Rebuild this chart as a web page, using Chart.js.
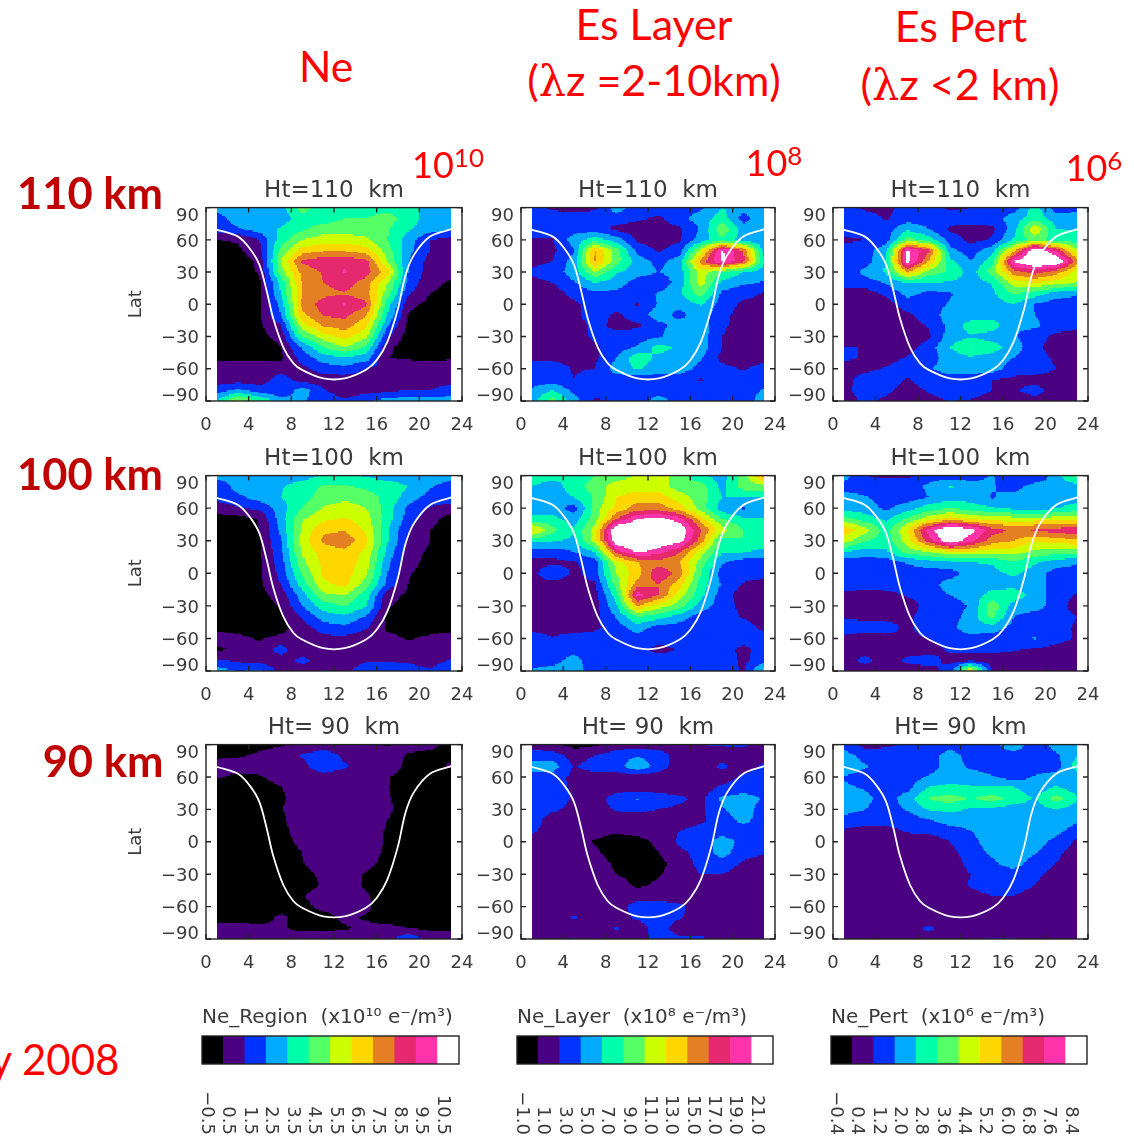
<!DOCTYPE html>
<html>
<head>
<meta charset="utf-8">
<title>Ne and Es maps</title>
<script src="https://cdn.jsdelivr.net/npm/chart.js@4"></script>
<style>
  html, body { margin: 0; background: #fff; }
  #page { position: relative; width: 1134px; height: 1147px; overflow: hidden; }
  canvas { position: absolute; filter: blur(0.4px); }
  .lbl { position: absolute; white-space: nowrap; font-family: Lato, sans-serif; color: #ff0000; transform: translate(-50%, -50%); z-index: 5; }
  .lbl sup { font-size: 0.72em; line-height: 0; vertical-align: 0.42em; }
  .alt { font-family: "DejaVu Serif", serif; }
  .ht { font-weight: 700; color: #c00000; font-size: 43.5px; }
</style>
</head>
<body>
<div id="page"></div>
<script>
// grid the maps were sampled on
const hourCols = [1, 3, 5, 7, 9, 11, 13, 15, 17, 19, 21, 23];
const latRows = [90, 80, 70, 60, 50, 40, 30, 20, 10, 0, -10, -20, -30, -40, -50, -60, -70, -80, -90];

// day/night line, same in every panel
const terminatorHour = [1, 3, 4.1, 5, 5.7, 6.3, 7.25, 8.2, 9, 11, 13, 15, 16, 17, 18, 18.7, 19.5, 21, 23];
const terminatorLat = [69.5, 63, 52, 37, 12, -13, -40, -55, -61, -69, -69, -61, -52, -35, -4, 27, 46, 63, 70];

// axis ticks
const hourTicks = ['0', '4', '8', '12', '16', '20', '24'];
const latTicks = { '90': '90', '60': '60', '30': '30', '0': '0', '-30': '\u221230', '-60': '\u221260', '-90': '\u221290' };

// colour bar ticks
const regionTicks = ['\u22120.5', '0.5', '1.5', '2.5', '3.5', '4.5', '5.5', '6.5', '7.5', '8.5', '9.5', '10.5'];
const layerTicks = ['\u22121.0', '1.0', '3.0', '5.0', '7.0', '9.0', '11.0', '13.0', '15.0', '17.0', '19.0', '21.0'];
const pertTicks = ['\u22120.4', '0.4', '1.2', '2.0', '2.8', '3.6', '4.4', '5.2', '6.0', '6.8', '7.6', '8.4'];

const bandColors = ['#000000', '#4b0082', '#0033ff', '#00aaff', '#00ffaa', '#55ff66',
                    '#ccff00', '#ffd700', '#e57f24', '#e6286e', '#ff33aa', '#ffffff'];

const region110 = [
  [3,3,3,3,5,4,4,4,4,4,3,3],
  [2,3,3,3,4,4,4.5,4.5,5,4,3,3],
  [2,2.4,3,3.6,4.3,5,5,5,4.6,3.6,3,2.6],
  [0.5,0.6,1.5,4,5.5,6,6,5.7,4.5,3,1.5,1.2],
  [0,0.3,1.2,4.8,7,7.4,7.4,7,5,2.8,1.5,0.8],
  [0,0,0.7,5.5,8.7,9.2,9.3,8.8,5.5,2.5,1.1,0.7],
  [0,0,0.6,5,7.8,8.6,9.6,9,7,2.4,1,0.7],
  [0,0,0.3,3.8,7.6,8.5,9,8,5.6,2.2,0.7,0.4],
  [0,0,0.4,3.5,7.5,8.2,8.4,7.9,5,1.6,0.5,0.3],
  [0,0,0.3,2.8,7.8,9,9.6,8.7,4,0.8,0.2,0],
  [0,0,0.4,2.5,7.2,8.6,8.8,7.6,3.5,0.4,0,0],
  [0,0,0.3,1.4,6,7.6,8,6.7,2.6,0.2,0,0],
  [0,0,0.2,0.8,4.5,6,6.8,5.8,1.6,0,0,0],
  [0,0,0,0.45,2.6,4.5,5.5,4.3,0.7,0,0,0],
  [0.3,0.3,0.3,0.3,1.9,3,3.3,3,0.5,0.4,0.3,0.3],
  [1,1.2,1,1,1.2,2,2.2,1.5,1.2,1,1,1.5],
  [1,1,1,2,1,1,1,1,1,1,1,1],
  [2,2.7,2,1.6,3,1.6,1,1,1.3,1.5,1.5,2],
  [3.5,6,4.5,3,2.6,2,1.6,2.4,3,3,3,3]
];
const layer110 = [
  [2,1.3,1.2,1.3,3,2,2,2,2.3,3.5,3,3],
  [2,2,2,2,2,1.7,1.3,2.2,3,4,2,3.5],
  [2,2,2,2,1.2,1,1,1.3,2.6,5.3,3,2.8],
  [1.4,1.4,3,4,3,1.3,1,1.4,3,4.3,3,2.6],
  [1.2,1.3,2.4,7.6,5,2.2,1.4,2,6,10.7,8.5,3],
  [1.2,1.5,3,7.7,5,3,2.2,3,8,10.7,8.8,3.5],
  [1.7,2,3,5.5,3.6,3,2.5,3,6,4.5,3.5,3],
  [1.2,1.5,2.4,3.5,3,2,1.7,3,6,3.2,2.7,2.4],
  [1,1,1.8,2.2,2.2,2,2.6,3.3,5,2.2,1.8,1.4],
  [1,1,1.3,2,2,1.4,2.6,2.8,3.6,2,1.3,1.2],
  [1,1,1.3,2,1.3,2,3,2.2,3,1.8,1.1,1.3],
  [1,1,1,1.8,1.2,1.3,2.2,3,3,1.7,1,1],
  [1,1,1,1.7,2,2,2.4,3,3,1.5,1,1],
  [1,1,1,1.3,2,2.6,3.9,3.3,3,1.5,1,1],
  [1.3,1.3,1.2,1.3,2.5,4.2,3.2,3,2.6,1.2,1,1],
  [2,2,1.4,1.5,3,3.6,3,3,2.2,1.8,1.4,2],
  [2,2,1.5,2,2,2,2,2,1.4,2,2,2],
  [2.6,3.5,2.2,2,2.5,2,2,2,2,2,2,2.6],
  [3,5,3,1.3,1.5,2,3,2,2,2,2,3]
];
const pert110 = [
  [2,1.3,1.2,2,2,1.3,1.5,2,2,4,2,2],
  [2,2,1.4,2,2,2,2,2,3,4,3,3.2],
  [2.2,2,2,3.3,2.5,1.3,1.2,1.3,3,6.5,3.5,3.4],
  [1.3,1.5,2,5,4,2,1.2,1.6,3.6,5,4,4],
  [2,2,3.2,10.8,8.8,2.8,2,3.2,7,11.8,9.5,5.5],
  [2,2,3.6,11,7.5,3.8,2.5,4,10.6,12,11.8,8],
  [1.8,2.8,3.6,7.5,5,4.4,3,5,8,9,8,6],
  [2,2,2.6,3.5,3.5,3.4,3,3.6,6,6.5,6,5.4],
  [1,1,1.7,2.8,2.2,2.4,3,3.3,4.6,4,3,2.6],
  [1.5,1,1,2,2,2.6,3,3,3.5,2.4,2,2],
  [1.5,1,1,1.3,2,3,3,3.1,3,2.5,2,2],
  [1,1,1,1,1.6,2.8,4,4,2.6,2.7,2,1.8],
  [1,1,1,1,1.3,3,3.4,3,2.6,2,1.2,1],
  [1.5,1.5,1,1.1,2,3.5,4.6,4,3,1.8,1,1],
  [1.7,1.4,1.1,1.6,2,3,3.3,3,2.5,2,1.3,1],
  [1,1.2,1.6,2,2.4,3,3,3,2,2.2,1.5,1],
  [1.1,2,2,1.4,2,2,2,1.5,1.3,1,1,1],
  [1.2,2,1.7,1.1,1.6,2,2,1.5,1.3,2,1,1],
  [1,1.7,1.3,1,1.2,1.5,1.4,1,1,1,1,1]
];
const region100 = [
  [3,3,3,3,3,3.6,3.6,3.4,3,3,3,3],
  [1.6,3,3,3.4,4,4.6,4.6,4.3,4,3.5,2.6,2],
  [1.8,2.2,3,3.5,4,5,5.3,5,4.2,3,2.1,2],
  [1,1.4,1.7,3,4.5,5.6,5.9,5.5,4,2.2,1.4,1.1],
  [0,0.1,0.55,3,5.4,6.3,6.6,6,4,2,0.9,0],
  [0,0,0.5,2.7,5.7,7.3,7.4,6.3,3.6,1.5,0.5,0],
  [0,0,0.4,2.4,6,7.7,8.2,6.8,3.6,1.3,0.5,0],
  [0,0,0.4,2.2,5.7,7,7.2,6.3,3.2,1,0.3,0],
  [0,0,0.3,2,5.2,6.8,7.1,6,2.8,0.9,0.1,0],
  [0,0,0.3,1.8,4.6,6.7,7,5.7,2.5,0.6,0,0],
  [0,0,0.3,1.5,4,6.3,6.8,5,2.2,0.45,0,0],
  [0,0,0.2,0.9,3,5.3,5.5,4,0.9,0.3,0,0],
  [0,0,0,0.6,2.5,4,4.5,3.6,0.6,0.1,0,0],
  [0,0,0,0.3,1.6,3,3.3,2.4,0.3,0,0,0],
  [0.2,0.2,0.2,0.2,1,2,2.2,1.6,0.3,0.1,0.1,0.1],
  [1,0.7,0.4,0.7,0.8,1.2,1.3,0.8,0.8,0.4,0.7,1],
  [0.3,0.7,0.8,2,0.5,1,1,1,1,1,0.7,1],
  [1.6,1.3,1,1,1.8,1,1,1.4,1.4,1.3,1,1.6],
  [3,2.5,2.8,1,1,1.6,1.3,2,2.2,2,1.6,2.5]
];
const layer100 = [
  [4,4,3.5,4.5,5,5.6,6,5,3.7,3,5,8],
  [3.5,3,4,5,6,6,6,5,5,3.2,5,5],
  [3,3,3.5,4.6,6.5,7,7,6,5,3.5,3.5,3.5],
  [3,3,2,5,6.8,8,8,7,5,3,2.4,3],
  [3.8,3.8,3,5,8.5,10.5,11,10,7,4.5,3.6,3.6],
  [7,4.8,3.6,6,12,12,12,11.5,8.5,6,4.5,4],
  [3.8,3.6,3.3,6,11.5,12,11.5,11,8,4,4.5,4.2],
  [2,2,2.5,3.5,9,10.7,10,8.6,6,3.6,3.6,3.2],
  [1.2,1.2,1.4,2,6,7.5,8,7.5,5,2.6,2,2],
  [1,2.6,1.2,2,5.5,7,9.5,8,4.5,2,2,2],
  [1,1,1,1.4,5,8,8.5,7,4,2.4,1.4,1],
  [1,1,1,1.1,4,10,8.5,6,3.8,2,1,1],
  [1,1,1,1.1,3.3,7.5,6,5,3,2,1.2,1],
  [1,1,1,1.1,2.6,4.5,4,3,2,2,1.4,1],
  [1.2,1,1,1.3,2,3,2,2,2,2,2,1.2],
  [2,1.6,2,2,2,2,2,2,2,2,2,2],
  [2,2,2,2,1.6,2,1.1,1.6,2,2,1.2,2],
  [2,2,3,1.6,2,2,2,2,2,2,1.3,2],
  [2.6,3,3,2,2,2,1.5,2,2,2,1.4,4]
];
const pert100 = [
  [3,1.5,1.3,1.3,2,2,2,2.6,1.5,1.5,3,5],
  [2,2,2,2,2.7,3.6,3,2.6,2,3,3,3],
  [3,2.6,2,2,2.5,3,3,2.4,3,3,2.8,3],
  [3,3,2.3,3,4,4.6,4,3.6,3.3,3,3.4,4],
  [5,4,3.3,4.7,6,7,6.4,6,6,6,6,6],
  [7.2,6,4,6.5,10,12,11,9,8.3,8.7,9,9.3],
  [6,4.6,4,6,9,11.5,9.8,8,7.5,6.6,7,7.3],
  [3.6,3,3.3,5,5.5,6.4,6.4,6,6,5.3,5,5],
  [2,2,2,2.6,3,3.3,3.5,3.6,4.4,3.6,3,2.6],
  [2,2,1.5,2,2,2,3,3.2,3.7,3,2,2],
  [2,1.8,1.9,2,2,3,3,3.2,3,3,2,2],
  [1.2,1.2,1.2,1.6,2,2.5,3,3.8,4.2,3,2,1.4],
  [1.1,1.1,1,1,1.9,2,2.6,5.2,3,3,2,1],
  [1.4,1.2,1.2,1.3,2,2,3,4.8,2.5,2,2,1.5],
  [2,2,1.9,1.3,2,2.3,3,3,2.2,2,2,1.3],
  [1.3,1,1.2,1.3,1.5,2,2.2,2,2,2.6,1.8,1.4],
  [1,1,1,1,1,1.7,1.7,1.8,1.6,1.4,1.2,1.1],
  [1,1.8,1,1.7,2,1.1,1.2,1,1,1,1,1],
  [1,1,1,1,1,2,7,1.3,1,1,1,1]
];
const region90 = [
  [0,0.3,0.3,0.4,0.7,1,1,0.8,0.4,0.8,0.7,0.3],
  [0.3,0.4,0.6,0.9,1.6,2,1.3,1,0.9,0.4,0.3,0.3],
  [0.9,0.9,0.9,0.7,1.2,2.2,1.6,1.1,0.9,0.3,0.3,0.6],
  [0.6,0.3,0.4,0.9,1,1,1,1,0.55,0.2,0,0],
  [0,0,0,0.45,0.9,1,1,1,0.55,0,0,0],
  [0,0,0,0.4,0.8,1,1,1,0.6,0,0,0],
  [0,0,0,0.45,0.9,1,1,1,0.7,0,0,0],
  [0,0,0,0.35,0.9,1,1,1,0.5,0,0,0],
  [0,0,0,0.3,0.8,1,1,1,0.4,0,0,0],
  [0,0,0,0.2,0.7,1,1,1,0.4,0,0,0],
  [0,0,0,0,0.5,1,1,0.9,0.3,0,0,0],
  [0,0,0,0,0.45,1,1,0.8,0.2,0,0,0],
  [0,0,0,0,0.2,0.7,1,0.4,0,0,0,0],
  [0,0,0,0,0.1,0.6,1,0.35,0,0,0,0],
  [0,0,0,0,0.45,0.9,1,0.6,0,0,0,0],
  [0,0,0,0.1,0.2,0.8,1,0.7,0,0,0,0],
  [0,0,0,0.7,0.1,0.1,0.7,0.4,0,0,0,0],
  [1,1,0.8,0.6,0.3,0.3,0.4,0.7,0.8,0.5,0.3,0.3],
  [1,1,1,1,1,1,1.2,1,1,2.5,1,1]
];
const layer90 = [
  [1,0.7,0.2,0.3,1,1,1,1,1.5,1.6,1.7,1],
  [2,2,1,1.5,2,2.4,2,1,1,1,1,1],
  [3,3,1.4,2,2,3.3,2,1,1,1.7,1,1.7],
  [2,2,1.2,1,1,1,1,1,1,1,1.7,2],
  [2,2,1.3,1,1,1,1,1,1,1.7,2,2],
  [2,2,1.4,1,2,2.6,2,1.7,1.2,2.7,3,2.4],
  [2,1.7,1.2,1.1,1.6,1.7,1.5,1.3,1.3,2.4,3,2],
  [2,1,1,1,1,1,1,1,1.3,2,2.8,2],
  [1.7,1,1,0.9,0.6,0.8,1,1.5,1.9,2,2,2],
  [1,1,1,0.4,0.1,0.2,0.7,1.7,2,3,2.2,2],
  [1,1,1,0.7,0,0,0.5,1.3,1.8,3,1.8,1.6],
  [1,1,1,1,0.3,0,0.2,1,1.8,2,1.4,1],
  [1,1,1,1,0.5,0.1,0.4,1,1.5,1.5,1.1,1],
  [1,1,1,1,1,0.3,0.7,1,1,1,1,1],
  [1,1,1,1,1,1,1,1,1,1,1,1],
  [1,1,1,1,1,2,2,1.7,1,1,1,1],
  [1,1,1.6,1,1,1.7,1.9,1.6,1,1,1,1],
  [1,1,1,1,1.6,1,2,1,1,1,1,1],
  [1,1,1.6,1,1,1,2,1.7,1.7,1,1,1]
];
const pert90 = [
  [2,1.2,1.3,1.7,2,2,2,2,3.5,1.5,3,3],
  [3,2,2,2,2,3,2,2,1.9,2,2.3,3.5],
  [3.5,2.6,2,2,2,3,2.3,2,2,2,2,4],
  [2.4,2,2,2,2.6,3,3,2.6,2,2.6,3,3],
  [2.7,2.4,2,2.2,3.6,3.8,3.6,3.7,3.6,3,3.6,3],
  [3,2.8,2,3,4.6,5,4.4,5,4.1,3.4,5,3.6],
  [3,2.5,2,2.6,3.6,3.7,3.4,3.2,3,3,3.5,3],
  [2,1.8,1.8,1.9,2.4,3,3,3,3,3,3,2.7],
  [1.4,1.2,1.2,1.6,1.7,2,2.5,3,3,3,2.8,2],
  [1,1,1,1,1,1.5,2.2,3,3,3,2.2,1.3],
  [1,1,1,1,1,1.2,2,2.7,3,2.6,1.7,1.1],
  [1,1,1,1,1,1,1.8,2.3,3,2,1.5,1],
  [1,1,1,1,1,1,1.5,2,2,1.7,1.2,1],
  [1,1,1,1,1,1,1.6,2,2,1.5,1,1],
  [1,1,1,1,1,1.2,1.2,1.5,1.5,1.1,1,1],
  [1,1,1,1,1,1,1,1,1,1,1,1],
  [1,1,1,1,1,1,1,1,1,1,1,1],
  [1,1,1,1,1.7,1,1,1,1,1,1,1],
  [1,1,1,1,1,1.4,1.4,1.6,1.6,1,1,1]
];

const page = document.getElementById('page');
const tickFont = "'DejaVu Sans'";
const inkColor = '#3a3a3a';

// colour-filled map, sampled bilinearly between grid nodes
const contourPlugin = {
  id: 'contour',
  beforeDatasetsDraw(chart, args, opts) {
    if (!opts.rows) return;
    const { x, y } = chart.scales;
    const ctx = chart.ctx;
    const subX = 16, subY = 8;
    ctx.save();
    for (let r = 0; r < latRows.length - 1; r++) {
      for (let c = 0; c < hourCols.length - 1; c++) {
        const a = opts.rows[r][c], b = opts.rows[r][c + 1];
        const d = opts.rows[r + 1][c], e = opts.rows[r + 1][c + 1];
        for (let j = 0; j < subY; j++) {
          const ty = (j + 0.5) / subY;
          const lat0 = latRows[r] + (latRows[r + 1] - latRows[r]) * j / subY;
          const lat1 = latRows[r] + (latRows[r + 1] - latRows[r]) * (j + 1) / subY;
          const py0 = Math.round(y.getPixelForValue(lat0)), py1 = Math.round(y.getPixelForValue(lat1));
          for (let i = 0; i < subX; i++) {
            const tx = (i + 0.5) / subX;
            const v = (a * (1 - tx) + b * tx) * (1 - ty) + (d * (1 - tx) + e * tx) * ty;
            const band = Math.min(11, Math.max(0, Math.floor(v + 0.5)));
            const h0 = hourCols[c] + (hourCols[c + 1] - hourCols[c]) * i / subX;
            const h1 = hourCols[c] + (hourCols[c + 1] - hourCols[c]) * (i + 1) / subX;
            const px0 = Math.round(x.getPixelForValue(h0)), px1 = Math.round(x.getPixelForValue(h1));
            ctx.fillStyle = bandColors[band];
            ctx.fillRect(px0, py0, px1 - px0, py1 - py0);
          }
        }
      }
    }
    ctx.restore();
  }
};

// box round the plot, with short inward ticks on all four sides
const framePlugin = {
  id: 'frame',
  afterDraw(chart, args, opts) {
    const ctx = chart.ctx;
    const { left, right, top, bottom } = chart.chartArea;
    ctx.save();
    ctx.strokeStyle = '#222';
    ctx.lineWidth = 1.4;
    ctx.strokeRect(left, top, right - left, bottom - top);
    if (opts.ticks) {
      const len = 5;
      ctx.beginPath();
      chart.scales.x.ticks.forEach(t => {
        const p = chart.scales.x.getPixelForValue(t.value);
        ctx.moveTo(p, bottom); ctx.lineTo(p, bottom - len);
        ctx.moveTo(p, top); ctx.lineTo(p, top + len);
      });
      chart.scales.y.ticks.forEach(t => {
        const p = chart.scales.y.getPixelForValue(t.value);
        ctx.moveTo(left, p); ctx.lineTo(left + len, p);
        ctx.moveTo(right, p); ctx.lineTo(right - len, p);
      });
      ctx.stroke();
    }
    ctx.restore();
  }
};

function addCanvas(left, top, width, height) {
  const canvas = document.createElement('canvas');
  canvas.width = width;
  canvas.height = height;
  canvas.style.left = left + 'px';
  canvas.style.top = top + 'px';
  canvas.style.width = width + 'px';
  canvas.style.height = height + 'px';
  page.appendChild(canvas);
  return canvas;
}

// keep the plot box where it was asked for, whatever the labels want
function fixAxisHeight(height) {
  return s => { s.height = height; s.paddingLeft = 0; s.paddingRight = 0; };
}
function fixAxisWidth(width) {
  return s => { s.width = width; s.paddingTop = 0; s.paddingBottom = 0; };
}

function drawPanel(box, rows, title, showLat) {
  const leftGap = 90, rightGap = 20, titleGap = 42, axisGap = 36;
  const canvas = addCanvas(box.left - leftGap, box.top - titleGap,
    leftGap + box.width + rightGap, titleGap + box.height + axisGap);
  new Chart(canvas, {
    type: 'scatter',
    data: {
      datasets: [{
        data: terminatorHour.map((h, i) => ({ x: h, y: terminatorLat[i] })),
        showLine: true,
        tension: 0.35,
        borderColor: '#ffffff',
        borderWidth: 1.8,
        pointRadius: 0
      }]
    },
    options: {
      responsive: false,
      animation: false,
      layout: { padding: { right: rightGap } },
      scales: {
        x: {
          type: 'linear', min: 0, max: 24,
          afterFit: fixAxisHeight(axisGap),
          grid: { display: false, drawTicks: false },
          border: { display: false },
          ticks: {
            stepSize: 4, padding: 14, maxRotation: 0, autoSkip: false,
            color: inkColor, font: { family: tickFont, size: 18 },
            callback: v => hourTicks[v / 4]
          }
        },
        y: {
          type: 'linear', min: -90, max: 90,
          afterFit: fixAxisWidth(leftGap),
          grid: { display: false, drawTicks: false },
          border: { display: false },
          title: {
            display: showLat, text: 'Lat', color: inkColor,
            font: { family: tickFont, size: 18 }, padding: { top: 10, bottom: 0 }
          },
          ticks: {
            stepSize: 30, padding: 7, autoSkip: false, labelOffset: 2,
            color: inkColor, font: { family: tickFont, size: 18, lineHeight: 0.75 },
            // end labels sit a little inside the box, as in the original plot
            callback: v => {
              const text = latTicks[String(v)];
              if (v === 90) return ['', text];
              if (v === -90) return [text, ''];
              return text;
            }
          }
        }
      },
      plugins: {
        legend: { display: false },
        tooltip: { enabled: false },
        title: {
          display: true, text: title, fullSize: false, color: inkColor,
          font: { family: tickFont, size: 23, weight: 'normal', lineHeight: 1.2 },
          padding: { top: 11, bottom: 3 }
        },
        contour: { rows: rows },
        frame: { ticks: true }
      }
    },
    plugins: [contourPlugin, framePlugin]
  });
}

function drawColorBar(left, width, labels, title) {
  const side = 20, titleGap = 34, barHeight = 28, axisGap = 76;
  const canvas = addCanvas(left - side, 1036 - titleGap, width + side * 2, titleGap + barHeight + axisGap);
  new Chart(canvas, {
    type: 'bar',
    data: {
      labels: labels,
      datasets: [{
        data: labels.map(() => 1),
        backgroundColor: bandColors,
        barPercentage: 1,
        categoryPercentage: 1
      }]
    },
    options: {
      responsive: false,
      animation: false,
      layout: { padding: { left: side, right: side } },
      scales: {
        x: {
          afterFit: fixAxisHeight(axisGap),
          grid: { display: false, drawTicks: false },
          border: { display: false },
          ticks: {
            minRotation: -90, maxRotation: -90, autoSkip: false, padding: 71, labelOffset: -6,
            color: inkColor, font: { family: tickFont, size: 18 }
          }
        },
        y: { display: false, min: 0, max: 1 }
      },
      plugins: {
        legend: { display: false },
        tooltip: { enabled: false },
        title: {
          display: true, text: title, fullSize: false, align: 'start', color: inkColor,
          font: { family: tickFont, size: 20, weight: 'normal', lineHeight: 1.2 },
          padding: { top: 4, bottom: 6 }
        },
        frame: { ticks: false }
      }
    },
    plugins: [framePlugin]
  });
}

function addLabel(html, x, y, size, cls) {
  const el = document.createElement('div');
  el.className = 'lbl' + (cls ? ' ' + cls : '');
  el.innerHTML = html;
  el.style.left = x + 'px';
  el.style.top = y + 'px';
  if (size) el.style.fontSize = size + 'px';
  page.appendChild(el);
}

const colBoxes = [{ left: 206, width: 256 }, { left: 521, width: 254 }, { left: 833, width: 255 }];
const rowBoxes = [{ top: 208, height: 193 }, { top: 476, height: 195 }, { top: 745, height: 194 }];
const panelMaps = [
  [region110, layer110, pert110],
  [region100, layer100, pert100],
  [region90, layer90, pert90]
];
const panelTitles = ['Ht=110  km', 'Ht=100  km', 'Ht= 90  km'];

rowBoxes.forEach((row, r) => {
  colBoxes.forEach((col, c) => {
    const box = { left: col.left, width: col.width, top: row.top, height: row.height };
    drawPanel(box, panelMaps[r][c], panelTitles[r], c === 0);
  });
});

drawColorBar(202, 257, regionTicks, 'Ne_Region  (x10\u00B9\u2070 e\u207B/m\u00B3)');
drawColorBar(517, 256, layerTicks, 'Ne_Layer  (x10\u2078 e\u207B/m\u00B3)');
drawColorBar(831, 256, pertTicks, 'Ne_Pert  (x10\u2076 e\u207B/m\u00B3)');

// slide annotations
addLabel('Ne', 326, 65, 42.5);
addLabel('Es Layer', 654, 23, 43);
addLabel('(<span class="alt">\u03BB</span>z =2-10km)', 654, 80, 43);
addLabel('Es Pert', 961, 25, 43);
addLabel('(<span class="alt">\u03BB</span>z &lt;2 km)', 960, 84, 43);
addLabel('10<sup>10</sup>', 448, 164, 36);
addLabel('10<sup>8</sup>', 774, 162, 36);
addLabel('10<sup>6</sup>', 1094, 167, 36);
addLabel('110 km', 90, 192, 0, 'ht');
addLabel('100 km', 90, 473, 0, 'ht');
addLabel('90 km', 103, 760, 0, 'ht');
addLabel('y 2008', 55, 1059, 42);
</script>
</body>
</html>
